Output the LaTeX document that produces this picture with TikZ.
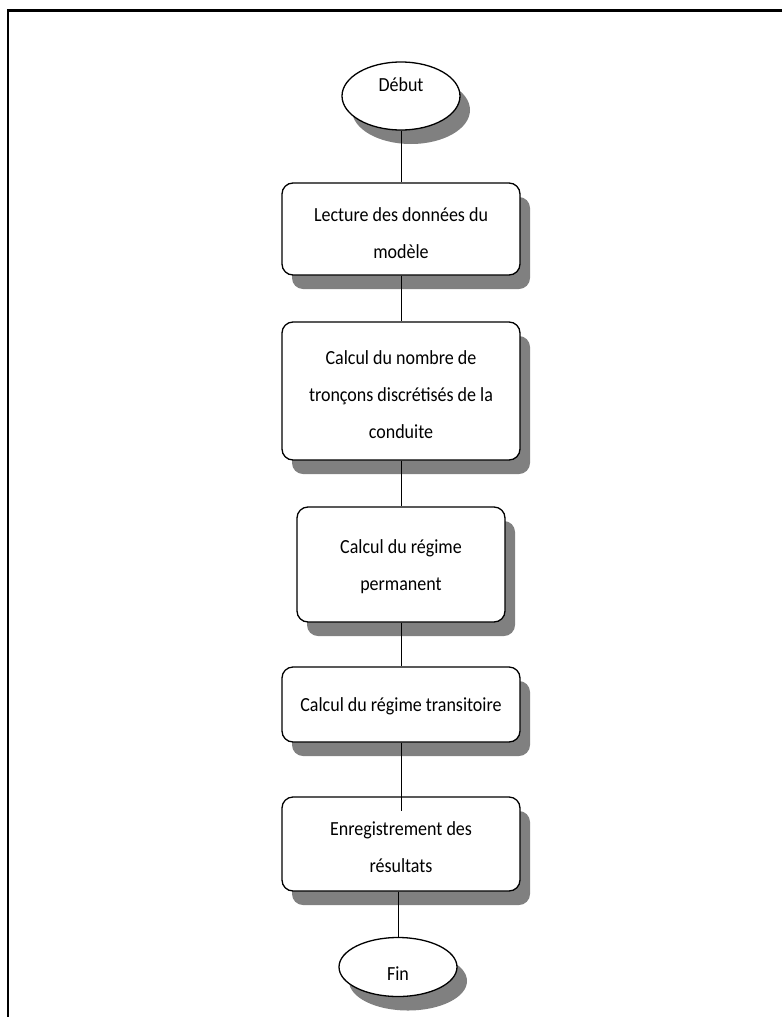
\documentclass[tikz,border=0pt]{standalone}
\usepackage{fontspec}
\setmainfont{Carlito}
\newfontfamily\chartfont[FakeStretch=0.9]{Carlito}
\usetikzlibrary{shapes.geometric,shadows,calc}
\newcommand\boxtext[2][0pt]{\raisebox{-#1}[\height][\depth]{\begin{tabular}{@{}c@{}}#2\end{tabular}}}
\begin{document}
\begin{tikzpicture}[x=1pt,y=-1pt,
  shade/.style={drop shadow={shadow xshift=10pt,shadow yshift=-14pt,fill=gray,opacity=1}},
  terminal/.style={ellipse,draw=black,line width=1.3pt,fill=white,shade,inner sep=0pt,font=\chartfont\fontsize{20}{37}\selectfont},
  stepbox/.style={rectangle,rounded corners=11pt,draw=black,line width=1.3pt,fill=white,shade,inner sep=0pt,font=\chartfont\fontsize{20}{37}\selectfont},
  link/.style={draw=black,line width=0.9pt}]
\useasboundingbox (0,0) rectangle (782,1017);
\draw[line width=2.4pt] (782,10.5) -- (8,10.5) -- (8,1017);
\node[terminal,minimum width=118pt,minimum height=68pt] (debut) at (401,96) {\boxtext[-12pt]{Début}};
\node[stepbox,minimum width=238pt,minimum height=92pt] (b1) at (401,229) {\boxtext[4pt]{Lecture des données du\\modèle}};
\node[stepbox,minimum width=238pt,minimum height=138pt] (b2) at (401,391) {\boxtext[3pt]{Calcul du nombre de\\tronçons discrétisés de la\\conduite}};
\node[stepbox,minimum width=208pt,minimum height=115pt] (b3) at (401,564.5) {\boxtext{Calcul du régime\\permanent}};
\node[stepbox,minimum width=238pt,minimum height=75pt] (b4) at (401,704.5) {\boxtext{Calcul du régime transitoire}};
\node[stepbox,minimum width=238pt,minimum height=94pt] (b5) at (401,844) {\boxtext[3pt]{Enregistrement des\\résultats}};
\node[terminal,minimum width=118pt,minimum height=59pt] (fin) at (398,967) {\boxtext[6pt]{Fin}};
\coordinate (b5in) at ($(b5.north)+(0,15)$);
\path[link] (debut.south) -- (b1.north);
\path[link] (b1.south) -- (b2.north);
\path[link] (b2.south) -- (b3.north);
\path[link] (b3.south) -- (b4.north);
\path[link] (b4.south) -- (b5in);
\path[link] (b5.south -| fin.north) -- (fin.north);
\end{tikzpicture}
\end{document}
